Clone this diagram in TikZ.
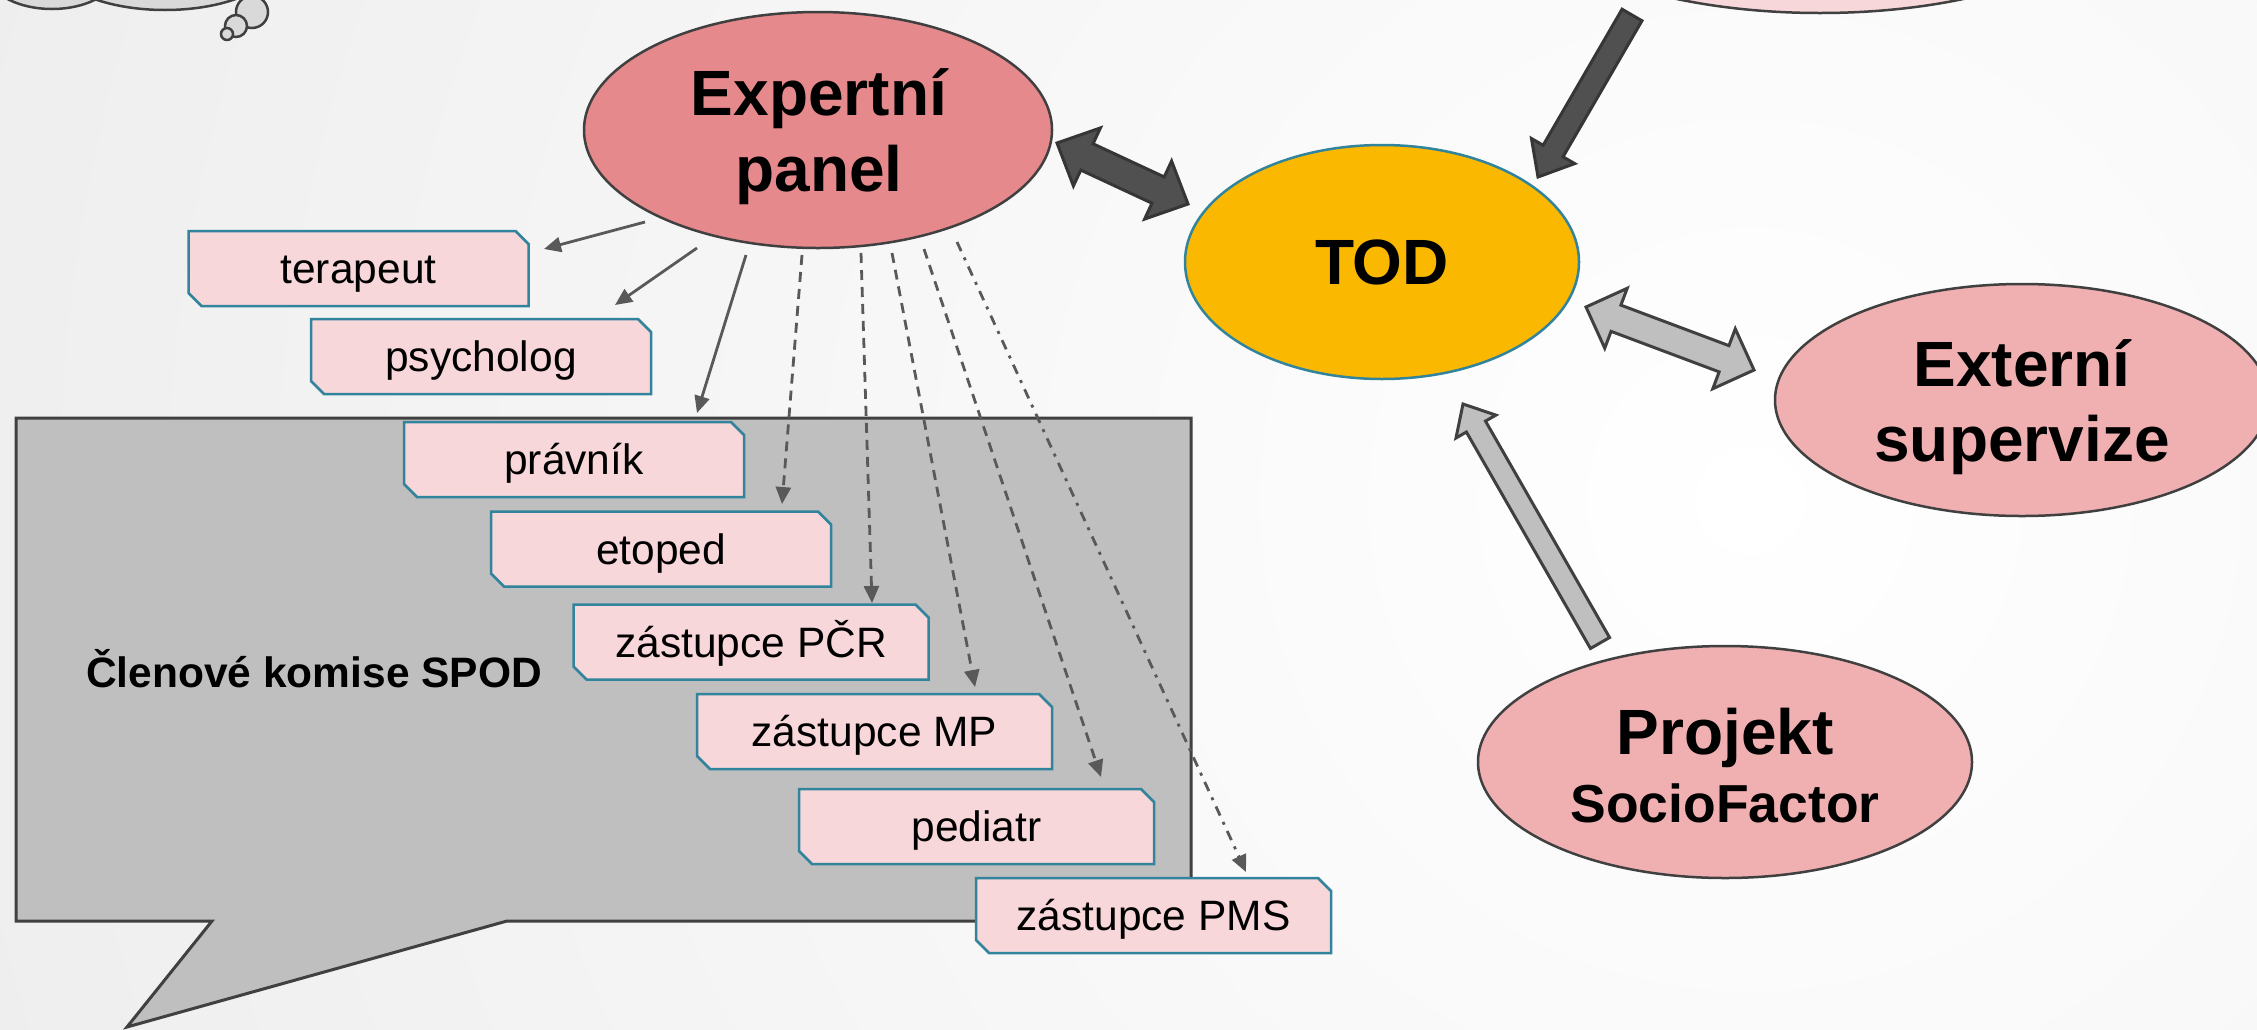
\documentclass[tikz,border=0pt]{standalone}
\usepackage{fontspec}
\setmainfont{Liberation Sans}
\usetikzlibrary{shapes.geometric,arrows.meta,calc}

\definecolor{bggray}{RGB}{222,222,222}
\definecolor{cloudfill}{RGB}{217,217,217}
\definecolor{outline}{RGB}{64,64,64}
\definecolor{epfill}{RGB}{230,137,140}
\definecolor{todfill}{RGB}{250,185,0}
\definecolor{tealb}{RGB}{49,132,155}
\definecolor{pinkell}{RGB}{240,176,178}
\definecolor{pinkbox}{RGB}{248,215,218}
\definecolor{calloutgray}{RGB}{191,191,191}
\definecolor{conn}{RGB}{89,89,89}
\definecolor{darkarrow}{RGB}{80,80,80}

\newcommand\singleblock[6]{%
  \coordinate (nk) at ($(#3)!#6!(#2)$);
  \draw[#1] ($(#2)!#4!90:(#3)$) -- ($(nk)!#4!90:(#3)$) -- ($(nk)!#5!90:(#3)$) -- (#3)
    -- ($(nk)!#5!-90:(#3)$) -- ($(nk)!#4!-90:(#3)$) -- ($(#2)!#4!-90:(#3)$) -- cycle;
}
\newcommand\doubleblock[6]{%
  \coordinate (nka) at ($(#2)!#6!(#3)$);
  \coordinate (nkb) at ($(#3)!#6!(#2)$);
  \draw[#1] (#2) -- ($(nka)!#5!90:(#3)$) -- ($(nka)!#4!90:(#3)$) -- ($(nkb)!#4!90:(#3)$)
    -- ($(nkb)!#5!90:(#3)$) -- (#3) -- ($(nkb)!#5!-90:(#3)$) -- ($(nkb)!#4!-90:(#3)$)
    -- ($(nka)!#4!-90:(#3)$) -- ($(nka)!#5!-90:(#3)$) -- cycle;
}
% name, x, y, width, text
\newcommand\lblbox[5]{%
  \filldraw[lblshape] ({#2-#4/2},{#3-37.5}) -- ({#2+#4/2-13},{#3-37.5}) -- ({#2+#4/2},{#3-24.5})
    -- ({#2+#4/2},{#3+37.5}) -- ({#2-#4/2+13},{#3+37.5}) -- ({#2-#4/2},{#3+24.5}) -- cycle;
  \node[lbltext] (#1) at (#2,#3) {#5};
}

\begin{document}
\begin{tikzpicture}[x=1pt,y=-1pt,
  ell/.style={ellipse, draw=outline, line width=2.5pt, inner sep=0pt},
  elltext/.style={inner sep=0pt, align=center, font=\bfseries\fontsize{64}{76}\selectfont},
  lbltext/.style={inner sep=0pt, text height=30pt, text depth=0pt,
    font=\fontsize{42.5}{50}\selectfont},
  lblshape/.style={fill=pinkbox, draw=tealb, line width=2.5pt, line join=miter},
  con/.style={draw=conn, line width=2.8pt, -{Triangle[length=17pt,width=15pt]}},
  dsh/.style={con, dash pattern=on 10pt off 7pt},
  dshdot/.style={con, dash pattern=on 10pt off 7pt on 3pt off 7pt},
  darkblock/.style={fill=darkarrow, draw=outline!85!black, line width=3pt, line join=miter},
  grayblock/.style={fill=calloutgray, draw=outline, line width=3pt, line join=miter},
  cloud/.style={fill=cloudfill, draw=outline, line width=2.5pt},
]
\useasboundingbox (0,0) rectangle (2257,1029);
\begin{scope}
\clip (0,0) rectangle (2257,1029);
\shade[inner color=white, outer color=bggray] (1750,500) circle (3600pt);

% thought cloud (cut at top)
\draw[cloud] (52,-32) ellipse [x radius=68, y radius=41];
\draw[cloud] (165,-42) ellipse [x radius=115, y radius=52];
\draw[cloud] (252,12) circle (16pt);
\draw[cloud] (236,26) circle (11pt);
\draw[cloud] (227,34) circle (6pt);

% partial ellipse at top right
\node[ellipse, draw=outline, fill=pinkbox, line width=2.5pt, minimum width=610pt,
  minimum height=240pt] (topell) at (1820,-107) {};

% callout
\draw[fill=calloutgray, draw=outline, line width=3pt, line join=miter]
  (16,418) -- (1191,418) -- (1191,921) -- (507,921) -- (127,1027) -- (212,921) -- (16,921) -- cycle;
\node[anchor=west, inner sep=0pt, text height=30pt, text depth=0pt,
  font=\bfseries\fontsize{42.5}{50}\selectfont] (spod) at (86,672) {Členové komise SPOD};

% label boxes
\lblbox{terapeut}{358.5}{268.5}{340}{terapeut}
\lblbox{psycholog}{481}{356.5}{340}{psycholog}
\lblbox{pravnik}{574}{459.5}{340}{právník}
\lblbox{etoped}{661}{549}{340}{etoped}
\lblbox{pcr}{751}{642}{355}{zástupce PČR}
\lblbox{mp}{874.5}{731.5}{355}{zástupce MP}
\lblbox{pediatr}{976.5}{826.5}{355}{pediatr}
\lblbox{pms}{1153.5}{915.5}{355}{zástupce PMS}

% ellipses
\node[ell, fill=epfill, minimum width=468pt, minimum height=236pt] (ep) at (818,130) {};
\node[elltext] (ep-t) at (819,137) {Expertní\\panel};
\node[ell, fill=todfill, draw=tealb, minimum width=394pt, minimum height=234pt] (tod) at (1382,262) {};
\node[elltext] (tod-t) at (1382,262) {TOD};
\node[ell, fill=pinkell, minimum width=494pt, minimum height=232pt] (ext) at (2022,400) {};
\node[elltext, font=\bfseries\fontsize{64}{75}\selectfont] (ext-t) at (2022,407) {Externí\\supervize};
\node[ell, fill=pinkell, minimum width=494pt, minimum height=232pt] (proj) at (1725,762) {};
\node[elltext, font=\bfseries\fontsize{64}{68}\selectfont] (proj-t) at (1725,766)
  {Projekt\\{\fontsize{53.5}{68}\selectfont SocioFactor}};

% thin connectors
\coordinate (s1) at (645,222); \coordinate (t1) at (544,249);
\coordinate (s2) at (697,248); \coordinate (t2) at (615,305);
\coordinate (s3) at (746,255); \coordinate (t3) at (697,413);
\coordinate (s4) at (802,255); \coordinate (t4) at (782,504);
\coordinate (s5) at (861,253); \coordinate (t5) at (872,603);
\coordinate (s6) at (892,253); \coordinate (t6) at (975,687);
\coordinate (s7) at (924,249); \coordinate (t7) at (1101,777);
\coordinate (s8) at (957,242); \coordinate (t8) at (1246,872);
\draw[con] (s1) -- (t1);
\draw[con] (s2) -- (t2);
\draw[con] (s3) -- (t3);
\draw[dsh] (s4) -- (t4);
\draw[dsh] (s5) -- (t5);
\draw[dsh] (s6) -- (t6);
\draw[dsh] (s7) -- (t7);
\draw[dshdot] (s8) -- (t8);

% block arrows
\coordinate (da1) at (1057,143); \coordinate (da2) at (1188,204);
\doubleblock{darkblock}{da1}{da2}{14.5pt}{32pt}{33pt}
\coordinate (dt1) at (1632,15); \coordinate (dt2) at (1538,177);
\singleblock{darkblock}{dt1}{dt2}{11.5pt}{25pt}{30pt}
\coordinate (ga1) at (1586,307); \coordinate (ga2) at (1754,370);
\doubleblock{grayblock}{ga1}{ga2}{14pt}{32pt}{32pt}
\coordinate (gp1) at (1600,643); \coordinate (gp2) at (1463,404);
\singleblock{grayblock}{gp1}{gp2}{11pt}{23pt}{26pt}
\end{scope}
\end{tikzpicture}
\end{document}
